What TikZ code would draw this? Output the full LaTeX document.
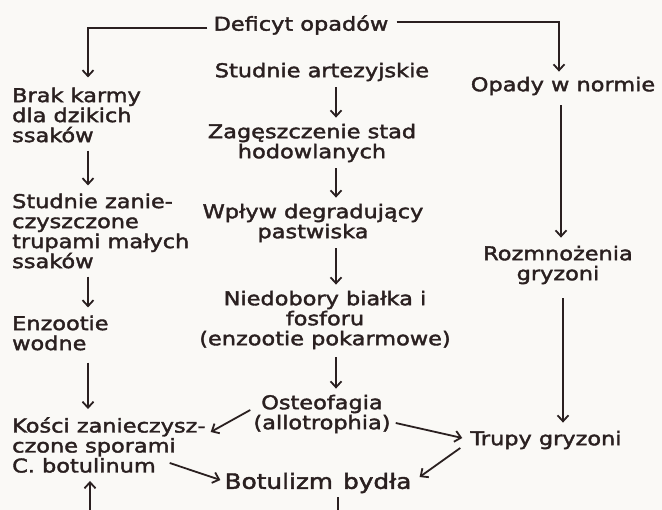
\documentclass[tikz,border=0pt]{standalone}
\usepackage{fontspec}
\setmainfont[FakeStretch=1.18,FakeBold=2]{DejaVu Sans}
\usetikzlibrary{arrows.meta,calc}
\definecolor{ink}{HTML}{2A2020}
\definecolor{paper}{HTML}{FAF9F6}
\begin{document}
\begin{tikzpicture}[x=1pt,y=-1pt,
  lbl/.style={inner sep=0pt, text=ink, font=\fontsize{19}{20}\selectfont, align=center},
  lbll/.style={lbl, align=left, anchor=west},
  conn/.style={draw=ink, line width=1.8pt},
  arr/.style={conn, -{Straight Barb[length=6pt,width=11pt]}},
]
\fill[paper] (0,0) rectangle (662,510);
\useasboundingbox (0,0) rectangle (662,510);

% column x positions
\coordinate (cL) at (88,0);
\coordinate (cC) at (336,0);
\coordinate (cR) at (559,0);

% centre column
\node[lbl] (def)  at (301,25)  {Deficyt opadów};
\node[lbl] (stA)  at (322,72)  {Studnie artezyjskie};
\node[lbl] (zag)  at (312,143) {Zagęszczenie stad\\hodowlanych};
\node[lbl] (wpl)  at (313,223) {Wpływ degradujący\\pastwiska};
\node[lbl] (nied) at (325,320) {Niedobory białka i\\fosforu\\(enzootie pokarmowe)};
\node[lbl] (ost)  at (322,414) {Osteofagia\\(allotrophia)};
\node[lbl, font=\fontsize{21}{22}\selectfont] (bot) at (318,483) {Botulizm\hspace{10pt}bydła};

% left column
\node[lbll] (brak)  at (12,115)   {Brak karmy\\dla dzikich\\ssaków};
\node[lbll] (stz)   at (12,231)   {Studnie zanie-\\czyszczone\\trupami małych\\ssaków};
\node[lbll] (enz)   at (12,333)   {Enzootie\\wodne};
\node[lbll] (kosci) at (12,445)   {Kości zanieczysz-\\czone sporami\\C. botulinum};

% right column
\node[lbl] (opady) at (563,86)  {Opady w normie};
\node[lbl] (rozm)  at (558,265) {Rozmnożenia\\gryzoni};
\node[lbl] (trupy) at (546,440) {Trupy gryzoni};

% free ends at the lower edge
\coordinate (endL) at (90,512);
\coordinate (endC) at (338,512);

% top branches
\draw[arr] ($(def.west)+(-6,3)$) -| ($(brak.north -| cL)+(0,-10)$);
\draw[arr] ($(def.east)+(8,-3)$) -| ($(opady.north -| cR)+(0,-5)$);

% centre chain
\draw[arr] ($(stA.south -| cC)+(0,6)$) -- ($(zag.north -| cC)+(0,-6)$);
\draw[arr] ($(zag.south -| cC)+(0,6)$) -- ($(wpl.north -| cC)+(0,-6)$);
\draw[arr] ($(wpl.south -| cC)+(0,6)$) -- ($(nied.north -| cC)+(0,-6)$);
\draw[arr] ($(nied.south -| cC)+(0,8)$) -- ($(ost.north -| cC)+(0,-6)$);

% left chain
\draw[arr] ($(brak.south -| cL)+(0,8)$) -- ($(stz.north -| cL)+(0,-8)$);
\draw[arr] ($(stz.south -| cL)+(0,8)$) -- ($(enz.north -| cL)+(0,-8)$);
\draw[arr] ($(enz.south -| cL)+(0,12)$) -- ($(kosci.north -| cL)+(0,-8)$);

% right chain
\draw[arr] ($(opady.south -| cR)+(2,10)$) -- ($(rozm.north -| cR)+(2,-8)$);
\draw[arr] ($(rozm.south -| cR)+(4,14)$) -- ($(trupy.north -| cR)+(4,-8)$);

% diagonals
\draw[arr] ($(ost.west)+(-3,-4)$) -- ($(kosci.east)+(5,-13)$);
\draw[arr] ($(ost.east)+(5,9)$) -- ($(trupy.west)+(-8,-2)$);
\draw[arr] ($(kosci.east)+(-36,18)$) -- ($(bot.west)+(-4,-3)$);
\draw[arr] ($(trupy.west)+(-10,8)$) -- ($(bot.east)+(8,-6)$);

% connectors leaving the lower edge
\draw[arr] (endL) -- ($(kosci.south -| endL)+(0,8)$);
\draw[conn] ($(bot.south -| endC)+(0,4)$) -- (endC);
\end{tikzpicture}
\end{document}
